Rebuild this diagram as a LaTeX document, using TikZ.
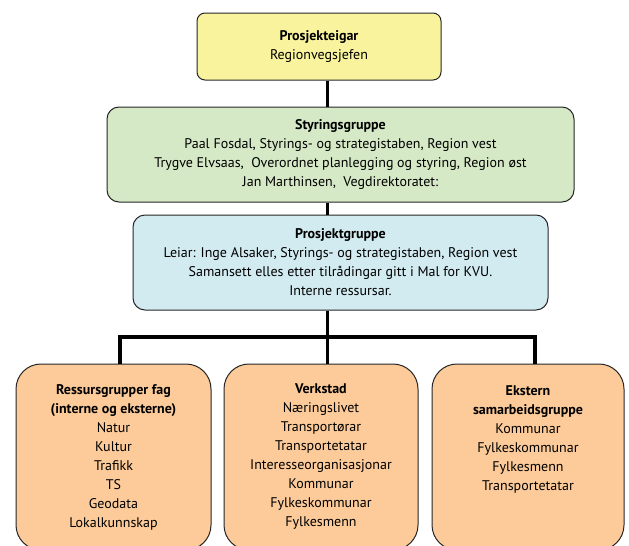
\documentclass[tikz,border=0pt]{standalone}
\usepackage{fontspec}
\setmainfont{PT Sans}
\usepackage{xcolor}
\usepackage{tikz}
\usetikzlibrary{positioning}

\definecolor{eiergul}{RGB}{249,243,158}
\definecolor{styrgronn}{RGB}{214,233,198}
\definecolor{prosjblaa}{RGB}{210,235,241}
\definecolor{gruppeoransje}{RGB}{252,203,153}

\tikzset{
  boks/.style={draw=black!85, line width=1pt, align=center, inner sep=0pt,
    font=\fontsize{14}{19}\selectfont},
  link/.style={draw=black, line width=3.2pt}
}

\begin{document}
\begin{tikzpicture}[x=1pt,y=-1pt]
                \useasboundingbox (0,0) rectangle (629,546);

                % Leiing
                \node[boks, fill=eiergul, rounded corners=8pt, minimum width=244pt, minimum height=67pt]
                  (eier) at (319,46.5) {\textbf{Prosjekteigar}\\Regionvegsjefen};
                \node[boks, fill=styrgronn, rounded corners=12pt, minimum width=467pt, minimum height=95pt]
                  (styring) at (340.5,154.5) {\textbf{Styringsgruppe}\\
                  Paal Fosdal, Styrings- og strategistaben, Region vest\\
                  Trygve Elvsaas,\ \ Overordnet planlegging og styring, Region øst\\
                  Jan Marthinsen,\ \ Vegdirektoratet:};
                \node[boks, fill=prosjblaa, rounded corners=12pt, minimum width=415pt, minimum height=95pt]
                  (prosjekt) at (340.5,262.5) {\textbf{Prosjektgruppe}\\
                  Leiar: Inge Alsaker, Styrings- og strategistaben, Region vest\\
                  Samansett elles etter tilrådingar gitt i Mal for KVU.\\
                  Interne ressursar.};

                % Grupper
                \node[boks, fill=gruppeoransje, rounded corners=25pt, minimum width=195pt, minimum height=186pt]
                  (ressurs) at (113.5,457) {\textbf{Ressursgrupper fag}\\\textbf{(interne og eksterne)}\\
                  Natur\\Kultur\\Trafikk\\TS\\Geodata\\Lokalkunnskap};
                \node[boks, fill=gruppeoransje, rounded corners=25pt, minimum width=194pt, minimum height=186pt]
                  (verkstad) at (321,457) {\textbf{Verkstad}\\Næringslivet\\Transportørar\\Transportetatar\\
                  Interesseorganisasjonar\\Kommunar\\Fylkeskommunar\\Fylkesmenn};
                \node[boks, fill=gruppeoransje, rounded corners=25pt, minimum width=192pt, minimum height=186pt]
                  (samarb) at (528,457) {\textbf{Ekstern}\\\textbf{samarbeidsgruppe}\\
                  Kommunar\\Fylkeskommunar\\Fylkesmenn\\Transportetatar\\\mbox{}\\\mbox{}};

                % Linjer
                \coordinate (kL) at (120,337);
                \coordinate (kM) at (327.5,337);
                \coordinate (kR) at (535,337);
                \draw[link] (kM |- eier.south) -- (kM |- styring.north);
                \draw[link] (kM |- styring.south) -- (kM |- prosjekt.north);
                \draw[link] (kM |- prosjekt.south) -- (kM |- verkstad.north);
                \draw[link] (kL |- ressurs.north) -- (kL) -- (kR) -- (kR |- samarb.north);
\end{tikzpicture}
\end{document}
